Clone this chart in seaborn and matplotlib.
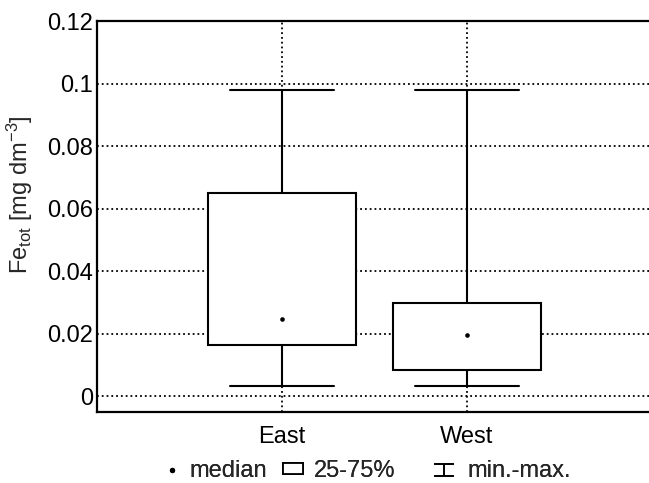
import matplotlib
matplotlib.use("Agg")
import matplotlib.pyplot as plt
from matplotlib.lines import Line2D
from matplotlib.patches import Patch
from matplotlib.path import Path
import pandas as pd
import seaborn as sns

# five-number summaries
sites = ["East", "West"]
fe_min = [0.0033, 0.0033]
fe_q1 = [0.0165, 0.0085]
fe_median = [0.0247, 0.0195]
fe_q3 = [0.0651, 0.0300]
fe_max = [0.0979, 0.0979]

y_ticks = [0, 0.02, 0.04, 0.06, 0.08, 0.1, 0.12]
y_tick_labels = ["0", "0.02", "0.04", "0.06", "0.08", "0.1", "0.12"]
legend_labels = ["median", "25-75%", "min.-max."]

# with whis=(0, 100) a boxplot of the five numbers reproduces them exactly
rows = []
for i, site in enumerate(sites):
    for v in (fe_min[i], fe_q1[i], fe_median[i], fe_q3[i], fe_max[i]):
        rows.append({"site": site, "fe": v})
df = pd.DataFrame(rows)
med = pd.DataFrame({"site": sites, "fe": fe_median})

sns.set_style("white")
plt.rcParams["font.family"] = ["Liberation Sans", "DejaVu Sans"]
plt.rcParams["mathtext.fontset"] = "custom"
plt.rcParams["mathtext.rm"] = "Liberation Sans"
plt.rcParams["mathtext.it"] = "Liberation Sans:italic"

FS = 17

fig = plt.figure(figsize=(6.49, 4.83), dpi=100)
ax = fig.add_axes([0.1495, 0.147, 0.855, 0.8095])

sns.boxplot(data=df, x="site", y="fe", order=sites, whis=(0, 100),
            width=0.8, color="white", linecolor="black", linewidth=1.5,
            showfliers=False, medianprops={"visible": False},
            capwidths=0.56, ax=ax)
sns.scatterplot(data=med, x="site", y="fe", color="black", marker="o",
                s=11, edgecolor="black", linewidth=0, ax=ax, zorder=5)

ax.set_xlim(-1, 2)
ax.set_ylim(-0.005, 0.12)
ax.set_yticks(y_ticks)
ax.set_yticklabels(y_tick_labels)
ax.set_axisbelow(True)
ax.grid(True, linestyle=":", color="black", linewidth=1.3)
ax.tick_params(axis="both", length=0, labelsize=FS, colors="black")
ax.tick_params(axis="x", pad=10)
ax.tick_params(axis="y", pad=3)
ax.set_xlabel("")
ax.set_ylabel(r"Fe$_{\mathrm{tot}}$ [mg dm$^{\mathrm{-3}}$]", fontsize=FS)
ax.yaxis.set_label_coords(-0.112, 0.555)
for s in ax.spines.values():
    s.set_color("black")
    s.set_linewidth(1.6)

# wide, flat I-beam like the original min-max symbol
ibeam = Path([(-1, 0.6), (1, 0.6), (0, 0.6), (0, -0.6), (-1, -0.6), (1, -0.6)],
             [Path.MOVETO, Path.LINETO, Path.MOVETO, Path.LINETO,
              Path.MOVETO, Path.LINETO])
dot_handle = Line2D([], [], marker="o", linestyle="none", color="black",
                    markersize=2.8)
box_handle = Patch(facecolor="white", edgecolor="black", linewidth=1.3)
cap_handle = Line2D([], [], marker=ibeam, linestyle="none", color="black",
                    markersize=15, markeredgewidth=1.2)

# three separate legend entries, placed where they sit in the original
leg_y = 0.024
entries = [
    (dot_handle, legend_labels[0], 162, 0.3),
    (box_handle, legend_labels[1], 283, 0.45),
    (cap_handle, legend_labels[2], 434, 0.55),
]
for handle, label, x_px, pad in entries:
    leg = fig.legend([handle], [label], loc="center left",
                     bbox_to_anchor=(x_px / 649, leg_y), frameon=False,
                     fontsize=FS, borderpad=0, borderaxespad=0,
                     handlelength=0.85, handleheight=0.34,
                     handletextpad=pad)
    fig.add_artist(leg)

fig.savefig("out.png", dpi=100)
